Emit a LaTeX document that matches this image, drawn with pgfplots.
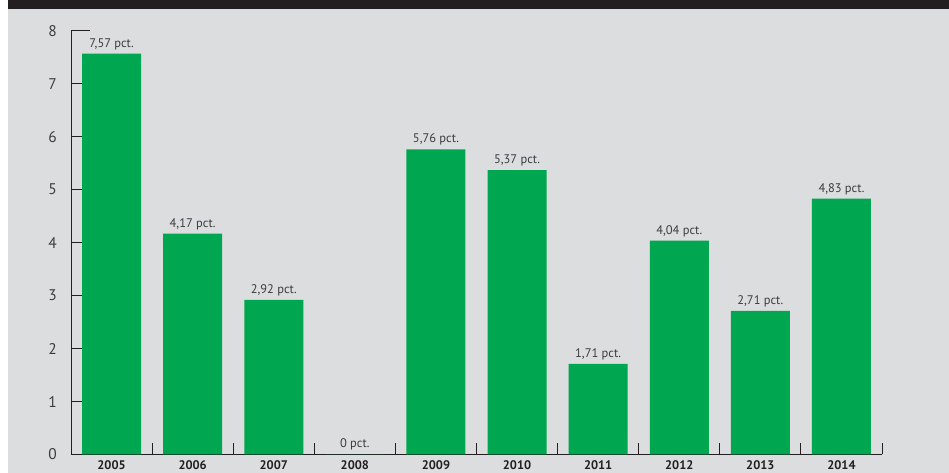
\documentclass[border=0pt]{standalone}
\usepackage{fontspec}
\setmainfont{PT Sans}
\usepackage{pgfplots}
\pgfplotsset{compat=1.18}
\definecolor{bg}{HTML}{DCDDDF}
\definecolor{band}{HTML}{231F20}
\definecolor{barg}{HTML}{00A650}
\definecolor{txt}{HTML}{3C3C3C}
\begin{document}
\begin{tikzpicture}[x=1bp,y=1bp]
\useasboundingbox (-71,-18.5) rectangle (878,454.5);
\clip (-71,-18.5) rectangle (878,454.5);
\fill[bg] (-71,-18.5) rectangle (878,454.5);
\fill[band] (-63,445.8) rectangle (878,454.5);
\fill[white] (-71,-18.5) rectangle (-63,454.5);
\begin{axis}[
  at={(0,0)}, anchor=south west,
  scale only axis, width=811bp, height=423.7bp,
  xmin=-0.5, xmax=9.5, ymin=0, ymax=8,
  axis x line=bottom, axis y line=left,
  axis line style={-, band, line width=0.9bp},
  tick style={band, line width=0.9bp},
  xtick align=outside, ytick align=inside, major tick length=11bp,
  xtick style={yshift=11bp},
  xtick={-0.5,0.5,...,9.5},
  x tick label as interval,
  xticklabels={2005,2006,2007,2008,2009,2010,2011,2012,2013,2014},
  xticklabel style={overlay, font=\fontsize{12.5}{13}\selectfont\bfseries, text=band, inner sep=0pt, anchor=north, yshift=5bp},
  ytick={0,1,...,7},
  extra y ticks={8}, extra y tick labels={8},
  extra y tick style={major tick length=19bp},
  yticklabel style={font=\fontsize{15.5}{16}\selectfont, text=txt, inner sep=0pt, anchor=east, xshift=-14bp},
  /pgf/number format/assume math mode=true,
  ybar, bar width=59bp,
  nodes near coords={\pgfmathprintnumber[use comma, fixed, precision=2, assume math mode=true]{\pgfplotspointmeta} pct.},
  every node near coord/.append style={font=\fontsize{12.5}{13}\selectfont, text=txt, anchor=base, inner sep=0pt, yshift=6.5bp},
]
\addplot[fill=barg, draw=none] coordinates {
  (0,7.57) (1,4.17) (2,2.92) (3,0) (4,5.76) (5,5.37) (6,1.71) (7,4.04) (8,2.71) (9,4.83)
};
\end{axis}
\end{tikzpicture}
\end{document}
